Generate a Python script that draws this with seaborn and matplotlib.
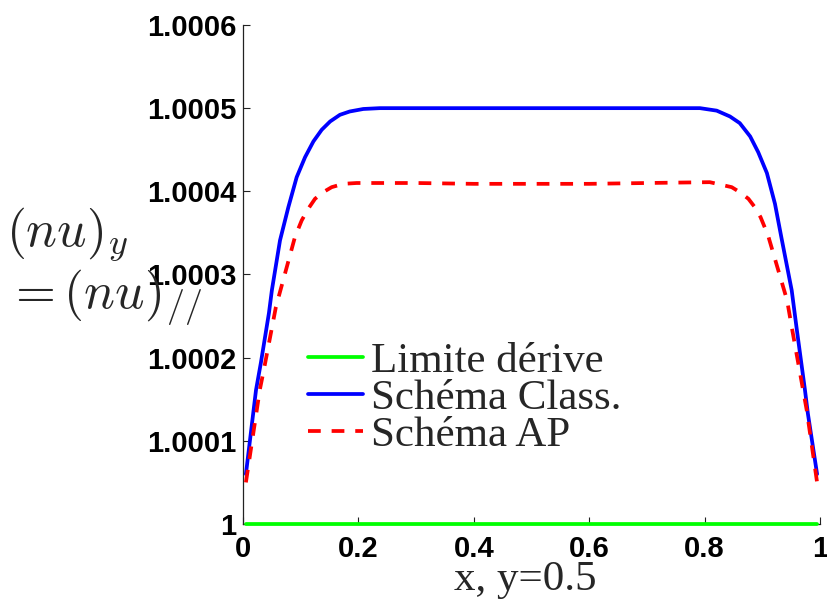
import matplotlib
matplotlib.use("Agg")
import matplotlib.pyplot as plt
import seaborn as sns
from matplotlib.font_manager import FontProperties

# ---------------- data ----------------
x_limite = [0.005, 0.995]
y_limite = [1.0, 1.0]

x_class = [0.005, 0.0225, 0.031, 0.045, 0.05, 0.0641, 0.0786, 0.093, 0.1075,
           0.122, 0.1364, 0.151, 0.168, 0.185, 0.2085, 0.237, 0.3, 0.4, 0.5,
           0.6, 0.7, 0.75, 0.792, 0.821, 0.844, 0.861, 0.879, 0.893, 0.908,
           0.922, 0.933, 0.951, 0.96, 0.974, 0.979, 0.995]
y_class = [1.000060, 1.000161, 1.000194, 1.000254, 1.000281, 1.000341, 1.000381,
           1.000417, 1.000441, 1.000460, 1.000474, 1.000484, 1.000492, 1.000496,
           1.000499, 1.000500, 1.000500, 1.000500, 1.000500, 1.000500, 1.000500,
           1.000500, 1.000500, 1.000497, 1.000490, 1.000482, 1.000466, 1.000447,
           1.000422, 1.000385, 1.000345, 1.000281, 1.000233, 1.000161, 1.000133,
           1.000060]

x_ap = [0.005, 0.023, 0.029, 0.036, 0.057, 0.09, 0.1017, 0.113, 0.1248, 0.139,
        0.1537, 0.1738, 0.197, 0.25, 0.3, 0.4, 0.5, 0.6, 0.7, 0.809, 0.847,
        0.861, 0.876, 0.887, 0.897, 0.91, 0.943, 0.951, 0.977, 0.995]
y_ap = [1.000050, 1.000133, 1.000161, 1.000185, 1.000261, 1.000345, 1.000365,
        1.000379, 1.000391, 1.000399, 1.000405, 1.000409, 1.000410, 1.000410,
        1.000410, 1.000409, 1.000409, 1.000409, 1.000410, 1.000411, 1.000405,
        1.000399, 1.000391, 1.000381, 1.000369, 1.000347, 1.000269, 1.000237,
        1.000137, 1.000050]

series_labels = ["Limite dérive", "Schéma Class.", "Schéma AP"]
x_ticks = [0, 0.2, 0.4, 0.6, 0.8, 1]
x_tick_labels = ["0", "0.2", "0.4", "0.6", "0.8", "1"]
y_ticks = [1.0, 1.0001, 1.0002, 1.0003, 1.0004, 1.0005, 1.0006]
y_tick_labels = ["1", "1.0001", "1.0002", "1.0003", "1.0004", "1.0005", "1.0006"]
x_label = "x, y=0.5"
y_label = r"$(nu)_y$" + "\n" + r"$= (nu)_{//}$"

# ---------------- style ----------------
sns.set_style("ticks")
plt.rcParams["font.family"] = ["Liberation Sans", "DejaVu Sans"]
plt.rcParams["mathtext.fontset"] = "cm"

fig, ax = plt.subplots(figsize=(8.28, 5.99), dpi=100)
fig.subplots_adjust(left=0.2935, right=0.9903, bottom=0.1252, top=0.9583)

lw = 2.7
sns.lineplot(x=x_limite, y=y_limite, color="#00ff00", linewidth=lw,
             label=series_labels[0], ax=ax, zorder=3, clip_on=False)
sns.lineplot(x=x_class, y=y_class, color="#0000ff", linewidth=lw,
             label=series_labels[1], ax=ax, zorder=3, clip_on=False)
sns.lineplot(x=x_ap, y=y_ap, color="#ff0000", linewidth=lw,
             linestyle=(0, (3.4, 2.9)),
             label=series_labels[2], ax=ax, zorder=4, clip_on=False)

ax.set_xlim(0, 1)
ax.set_ylim(1.0, 1.0006)
ax.set_xticks(x_ticks)
ax.set_xticklabels(x_tick_labels)
ax.set_yticks(y_ticks)
ax.set_yticklabels(y_tick_labels)

ax.tick_params(direction="in", length=5, width=0.8, colors="#222222",
               labelcolor="black", labelsize=21)
ax.tick_params(axis="x", pad=8)
ax.tick_params(axis="y", pad=5)
for t in ax.get_xticklabels() + ax.get_yticklabels():
    t.set_fontweight("bold")
    t.set_family(["Liberation Sans", "DejaVu Sans"])

for s in ["top", "right"]:
    ax.spines[s].set_visible(False)
for s in ["left", "bottom"]:
    ax.spines[s].set_color("#222222")
    ax.spines[s].set_linewidth(0.9)

serif = FontProperties(family=["Liberation Serif", "DejaVu Serif"], size=31)
ax.legend(loc="center left", bbox_to_anchor=(0.1127, 0.251), frameon=False,
          prop=serif, handlelength=1.27, handletextpad=0.2,
          labelspacing=-0.05, borderpad=0, borderaxespad=0)

ax.set_xlabel(x_label, fontproperties=serif, va="baseline")
ax.xaxis.set_label_coords(0.49, -0.1323)

ax.set_ylabel(y_label, rotation=0, fontsize=37, ha="left", va="center",
              multialignment="left", linespacing=1.1)
ax.yaxis.set_label_coords(-0.411, 0.515)

fig.savefig("out.png", dpi=100)
